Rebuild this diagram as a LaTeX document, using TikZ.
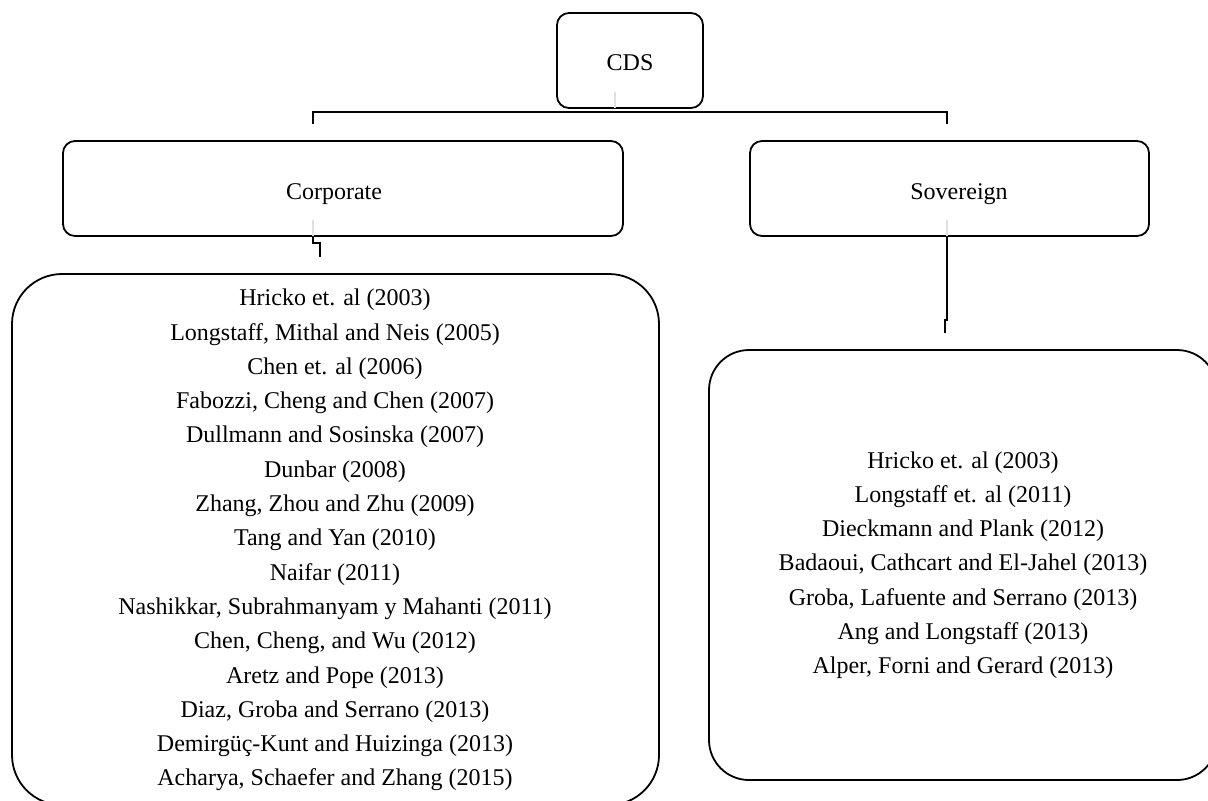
\documentclass[tikz,border=0pt]{standalone}
\usepackage{fontspec}
\setmainfont{Liberation Serif}

\begin{document}
\begin{tikzpicture}
  [
    x=0.5pt, y=-0.5pt,
    box/.style   = {draw, rounded corners=6pt, line width=0.9pt, inner sep=0pt},
    list/.style  = {draw, line width=0.9pt, inner sep=0pt},
    link/.style  = {line width=0.9pt},
    stub/.style  = {draw=black!12, line width=0.9pt},
    entry/.style = {anchor=base, inner sep=0pt, font=\fontsize{12}{14}\selectfont},
  ]

%Page frame
\useasboundingbox (0,0) rectangle (1208,800);
\clip (0,0) rectangle (1208,800);

%Line separation of the references
\def \dy{34.3}

%Top and level boxes
\node[box, minimum width=73pt, minimum height=47.5pt] (cds) at (630,60.5) {};
\node[box, minimum width=280pt, minimum height=47.5pt] (corp) at (343,188.5) {};
\node[box, minimum width=199.5pt, minimum height=47.5pt] (sov) at (949.5,188.5) {};

%Their titles
\node[entry] (cdsText) at (630,70) {CDS};
\node[entry] (corpText) at (334,199) {Corporate};
\node[entry] (sovText) at (959,199) {Sovereign};

%Boxes of references
\node[list, rounded corners=25pt, minimum width=323.5pt, minimum height=265.5pt] (corpList) at (335.5,539.5) {};
\node[list, rounded corners=20pt, minimum width=254pt, minimum height=215pt] (sovList) at (963,565) {};

%Ends of the connectors
\coordinate (cdsOut) at (615,108);
\coordinate (corpTick) at (313,124);
\coordinate (sovTick) at (947,124);
\coordinate (corpOut) at (313,236);
\coordinate (corpIn) at (320,257);
\coordinate (sovOut) at (947,236);
\coordinate (sovIn) at (945,333);

%Faint stubs inside the boxes
\draw[stub] (cdsOut) -- ++(0,-16);
\draw[stub] (corpOut) -- ++(0,-16);
\draw[stub] (sovOut) -- ++(0,-16);

%Connectors
\draw[link] (corpTick) |- ([yshift=-1.5pt]cds.south) -| (sovTick);
\draw[link] (corpOut) -- ++(0,7) -| (corpIn);
\draw[link] (sovOut) -- ++(0,84) -| (sovIn);

%Corporate references
\foreach [count=\i] \j in {{Hricko et. al (2003)},{Longstaff, Mithal and Neis (2005)},{Chen et. al (2006)},
  {Fabozzi, Cheng and Chen (2007)},{Dullmann and Sosinska (2007)},{Dunbar (2008)},
  {Zhang, Zhou and Zhu (2009)},{Tang and Yan (2010)},{Naifar (2011)},
  {Nashikkar, Subrahmanyam y Mahanti (2011)},{Chen, Cheng, and Wu (2012)},{Aretz and Pope (2013)},
  {Diaz, Groba and Serrano (2013)},{Demirgüç-Kunt and Huizinga (2013)},{Acharya, Schaefer and Zhang (2015)}}
{
\node[entry] (c\i) at (335,{305.7+(\i-1)*\dy}) {\j};
}

%Sovereign references
\foreach [count=\i] \j in {{Hricko et. al (2003)},{Longstaff et. al (2011)},{Dieckmann and Plank (2012)},
  {Badaoui, Cathcart and El-Jahel (2013)},{Groba, Lafuente and Serrano (2013)},
  {Ang and Longstaff (2013)},{Alper, Forni and Gerard (2013)}}
{
\node[entry] (s\i) at (963,{468+(\i-1)*\dy}) {\j};
}

%
\end{tikzpicture}
\end{document}
